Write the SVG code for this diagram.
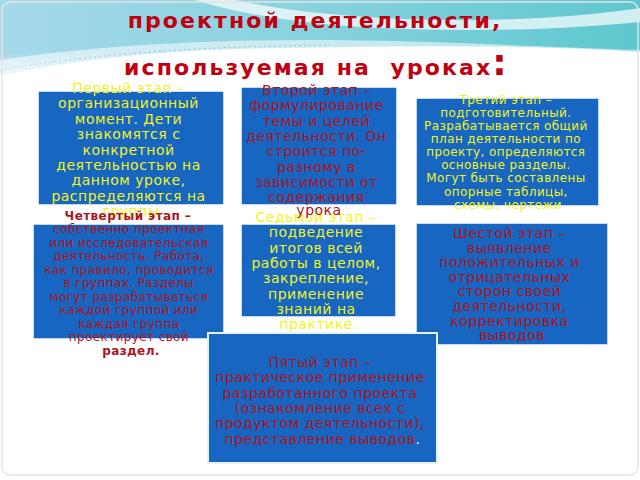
<svg xmlns="http://www.w3.org/2000/svg" width="640" height="480" viewBox="0 0 640 480">
<defs>
<linearGradient id="sky" x1="0" y1="0" x2="1" y2="0">
<stop offset="0" stop-color="#a6d9ea"/>
<stop offset="0.5" stop-color="#86d2de"/>
<stop offset="1" stop-color="#5ec7cf"/>
</linearGradient>
<linearGradient id="fade" x1="0" y1="0" x2="0" y2="1">
<stop offset="0" stop-color="#ffffff" stop-opacity="0"/>
<stop offset="1" stop-color="#ffffff" stop-opacity="1"/>
</linearGradient>
</defs>
<style>
.box{fill:#1766c2;stroke:#ffffff;stroke-width:1.5}
.t{font-family:"DejaVu Sans","Noto Sans",sans-serif;text-anchor:middle}
.y{fill:#f2f21c}
.r{fill:#ad1420}
.s14{font-size:14px;letter-spacing:0.5px}
.s12{font-size:12px;letter-spacing:0.4px}
.title{font-family:"DejaVu Sans","Noto Sans",sans-serif;font-weight:bold;fill:#c00010;font-size:22px;letter-spacing:2.1px}
</style>
<!-- background -->
<rect x="0" y="0" width="640" height="480" fill="#ffffff"/>
<path d="M0,0 H640 V52 C520,44 400,46 280,48 C170,50 80,58 0,76 Z" fill="url(#sky)"/>
<path d="M195,0 L235,0 C300,14 380,20 460,20 C540,20 600,14 640,8 L640,22 C560,30 470,32 380,28 C300,24 240,14 195,0 Z" fill="#ffffff" opacity="0.7"/>
<path d="M0,60 C90,46 200,40 310,40 C420,40 520,46 640,50 L640,60 C500,52 380,50 280,52 C170,55 80,62 0,78 Z" fill="#ffffff" opacity="0.55"/>
<path d="M0,70 C100,52 220,46 330,45" fill="none" stroke="#7fb8c8" stroke-width="1" stroke-dasharray="2 3" opacity="0.7"/>
<rect x="0" y="52" width="640" height="40" fill="url(#fade)"/>
<rect x="2" y="2" width="636" height="473" rx="8" fill="none" stroke="#e4e4e4" stroke-width="1.5"/>

<!-- title -->
<g id="title">
<text class="title" x="315" y="28" text-anchor="middle">проектной деятельности,</text>
<text class="title" x="124" y="75">используемая на&#160; уроках<tspan font-size="36px">:</tspan></text>
</g>

<g id="connectors"/>

<g id="stage1">
<rect class="box" x="38" y="91" width="186" height="114"/>
<text class="t y s14">
<tspan x="131" y="93">Первый этап –</tspan>
<tspan x="131" y="108.4">организационный</tspan>
<tspan x="131" y="123.8">момент. Дети</tspan>
<tspan x="131" y="139.2">знакомятся с</tspan>
<tspan x="131" y="154.6">конкретной</tspan>
<tspan x="131" y="170">деятельностью на</tspan>
<tspan x="131" y="185.4">данном уроке,</tspan>
<tspan x="131" y="200.8">распределяются на</tspan>
<tspan x="131" y="215.8">группы</tspan>
</text>
</g>

<g id="stage3">
<rect class="box" x="416" y="98" width="183" height="108"/>
<text class="t y s12" letter-spacing="0.85">
<tspan x="508" y="103.5">Третий этап –</tspan>
<tspan x="508" y="116.6">подготовительный.</tspan>
<tspan x="508" y="129.8">Разрабатывается общий</tspan>
<tspan x="508" y="142.9">план деятельности по</tspan>
<tspan x="508" y="156.1">проекту, определяются</tspan>
<tspan x="508" y="169.2">основные разделы.</tspan>
<tspan x="508" y="182.4">Могут быть составлены</tspan>
<tspan x="508" y="195.5">опорные таблицы,</tspan>
<tspan x="508" y="208.7">схемы, чертежи</tspan>
</text>
</g>

<g id="stage4">
<rect class="box" x="33" y="224" width="191" height="115"/>
<text class="t r s12">
<tspan x="130" y="220" font-weight="bold">Четвертый этап –</tspan>
<tspan x="131" y="233">собственно проектная</tspan>
<tspan x="131" y="246.5">или исследовательская</tspan>
<tspan x="131" y="260">деятельность. Работа,</tspan>
<tspan x="131" y="273.5">как правило, проводится</tspan>
<tspan x="131" y="287">в группах. Разделы</tspan>
<tspan x="131" y="300.5">могут разрабатываться</tspan>
<tspan x="131" y="314">каждой группой или</tspan>
<tspan x="131" y="327.5">каждая группа</tspan>
<tspan x="131" y="341">проектирует свой</tspan>
<tspan x="131" y="354.5" font-weight="bold">раздел.</tspan>
</text>
</g>

<g id="stage7">
<rect class="box" x="241" y="224" width="155" height="93"/>
<text class="t y s14">
<tspan x="318.5" y="222">Седьмой этап –</tspan>
<tspan x="318.5" y="237.3">подведение</tspan>
<tspan x="318.5" y="252.6">итогов всей</tspan>
<tspan x="318.5" y="267.9">работы в целом,</tspan>
<tspan x="318.5" y="283.2">закрепление,</tspan>
<tspan x="318.5" y="298.5">применение</tspan>
<tspan x="318.5" y="313.8">знаний на</tspan>
<tspan x="318.5" y="329.1">практике.</tspan>
</text>
</g>

<g id="stage2">
<rect class="box" x="241" y="87" width="156" height="118"/>
<text class="t r s14" letter-spacing="0.8">
<tspan x="319" y="95">Второй этап –</tspan>
<tspan x="319" y="110.3">формулирование</tspan>
<tspan x="319" y="125.6">темы и целей</tspan>
<tspan x="319" y="140.9">деятельности. Он</tspan>
<tspan x="319" y="156.2">строится по-</tspan>
<tspan x="319" y="171.5">разному в</tspan>
<tspan x="319" y="186.8">зависимости от</tspan>
<tspan x="319" y="202.1">содержания</tspan>
<tspan x="319" y="214.5">урока</tspan>
</text>
</g>

<g id="stage6">
<rect class="box" x="416" y="223" width="192" height="122"/>
<text class="t r s14" letter-spacing="0.9">
<tspan x="512" y="238">Шестой этап –</tspan>
<tspan x="512" y="252.6">выявление</tspan>
<tspan x="512" y="267.2">положительных и</tspan>
<tspan x="512" y="281.8">отрицательных</tspan>
<tspan x="512" y="296.4">сторон своей</tspan>
<tspan x="512" y="311">деятельности,</tspan>
<tspan x="512" y="325.6">корректировка</tspan>
<tspan x="512" y="340.2">выводов</tspan>
</text>
</g>

<g id="stage5">
<rect x="208" y="333" width="229" height="130" fill="#1766c2" stroke="#e8f0fa" stroke-width="2"/>
<text class="t r s14">
<tspan x="322.5" y="367">Пятый этап –</tspan>
<tspan x="322.5" y="382.3">практическое применение</tspan>
<tspan x="322.5" y="397.6">разработанного проекта</tspan>
<tspan x="322.5" y="412.9">(ознакомление всех с</tspan>
<tspan x="322.5" y="428.2">продуктом деятельности),</tspan>
<tspan x="322.5" y="443.5">представление выводов<tspan fill="#ffffff">.</tspan></tspan>
</text>
</g>
</svg>
